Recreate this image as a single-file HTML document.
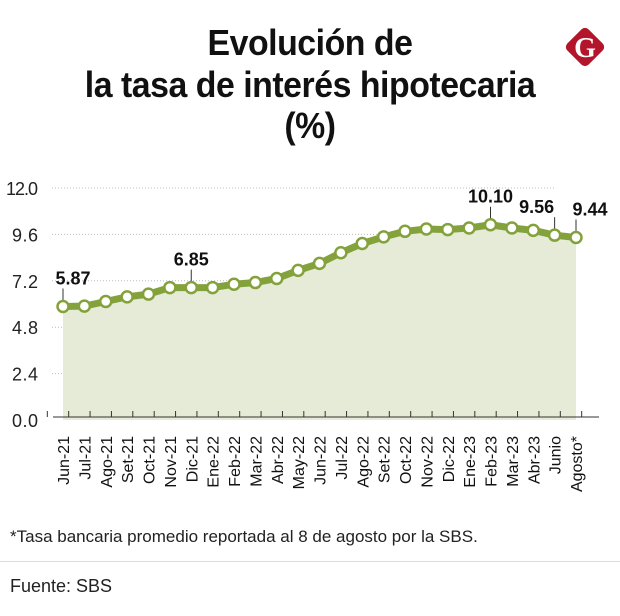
<!DOCTYPE html>
<html><head><meta charset="utf-8"><style>
body{margin:0;width:620px;height:616px;background:#fff;overflow:hidden;font-family:"Liberation Sans",sans-serif;}
.t{position:absolute;left:0;width:620px;text-align:center;font-weight:bold;font-size:36px;color:#111;font-family:"Liberation Sans",sans-serif;letter-spacing:-0.5px;transform:scaleX(0.94)}
</style></head><body>
<div>
<div class="t" style="top:22px">Evolución de</div>
<div class="t" style="top:64px">la tasa de interés hipotecaria</div>
<div class="t" style="top:105px">(%)</div>
</div>
<svg style="position:absolute;left:560px;top:22px" width="50" height="50" viewBox="0 0 50 50">
<rect x="10" y="10" width="30" height="30" rx="5" transform="rotate(45 25 25)" fill="#b3152a"/>
<text x="25" y="35" text-anchor="middle" font-family="Liberation Serif,serif" font-weight="bold" font-size="28" fill="#fff">G</text>
</svg>
<svg id="chart" style="position:absolute;left:0;top:0" width="620" height="520"></svg>
<div style="position:absolute;left:10px;top:527px;font-size:17px;color:#222;transform:scaleX(1.0);transform-origin:left">*Tasa bancaria promedio reportada al 8 de agosto por la SBS.</div>
<div style="position:absolute;left:0;top:561px;width:620px;height:1px;background:#ddd"></div>
<div style="position:absolute;left:10px;top:576px;font-size:18px;color:#222">Fuente: SBS</div>
<script>
const categories=["Jun-21","Jul-21","Ago-21","Set-21","Oct-21","Nov-21","Dic-21","Ene-22","Feb-22","Mar-22","Abr-22","May-22","Jun-22","Jul-22","Ago-22","Set-22","Oct-22","Nov-22","Dic-22","Ene-23","Feb-23","Mar-23","Abr-23","Junio","Agosto*"];
const values=[5.87,5.89,6.13,6.37,6.51,6.85,6.85,6.85,7.02,7.11,7.32,7.74,8.10,8.65,9.13,9.47,9.76,9.88,9.85,9.93,10.10,9.93,9.81,9.56,9.44];
const yTicks=[0,2.4,4.8,7.2,9.6,12];
const yTickLabels=["0.0","2.4","4.8","7.2","9.6","12.0"];
const labeled=[0,6,20,23,24];
const NS="http://www.w3.org/2000/svg";
const svg=document.getElementById('chart');
const x0=63,x1=576,yBase=420,yTop=188;
const xs=i=>x0+(x1-x0)*i/(categories.length-1);
const ys=v=>yBase-(yBase-yTop)*v/12;
function mk(t,a){const e=document.createElementNS(NS,t);for(const k in a)e.setAttribute(k,a[k]);svg.appendChild(e);return e;}
yTicks.forEach((v,i)=>{
 if(v>0){const g=mk('line',{x1:52,x2:555,y1:ys(v),y2:ys(v),stroke:'#bbb','stroke-width':1,'stroke-dasharray':'1 2'});
 }
 const t=mk('text',{x:38,y:ys(v)+7,'text-anchor':'end','font-size':18,fill:'#222','font-family':'Liberation Sans,sans-serif','textLength':yTickLabels[i].length>3?32:26});
 t.textContent=yTickLabels[i];
 
});
let d=`M${xs(0)},${yBase}`;values.forEach((v,i)=>d+=`L${xs(i)},${ys(v)}`);d+=`L${xs(values.length-1)},${yBase}Z`;
const area=mk('path',{d:d,fill:'#e5ebd6'});

const ax=mk('line',{x1:53,x2:599,y1:yBase-3,y2:yBase-3,stroke:'#333','stroke-width':1});

const step=(x1-x0)/(categories.length-1);
for(let i=0;i<=categories.length;i++){const xx=x0-step/2+step*i-5;
 const tk=mk('line',{x1:xx,x2:xx,y1:yBase-9,y2:yBase-3,stroke:'#333','stroke-width':1});
 }
const pts=values.map((v,i)=>`${xs(i)},${ys(v)}`).join(' ');
const ln=mk('polyline',{points:pts,fill:'none',stroke:'#84a23b','stroke-width':7,'stroke-linejoin':'round'});

labeled.forEach(i=>{
 const l=mk('line',{x1:xs(i),x2:xs(i),y1:ys(values[i])-6,y2:ys(values[i])-18,stroke:'#333','stroke-width':1});
 
});
values.forEach((v,i)=>{
 const c=mk('circle',{cx:xs(i),cy:ys(v),r:5.5,fill:'#fff',stroke:'#84a23b','stroke-width':2.5});
 
});
const offs={0:10,6:0,20:0,23:-18,24:14};
labeled.forEach(i=>{
 const t=mk('text',{x:xs(i)+offs[i],y:ys(values[i])-22,'text-anchor':'middle','font-size':18,'font-weight':'bold',fill:'#111','font-family':'Liberation Sans,sans-serif'});
 t.textContent=values[i].toFixed(2);
 
});
categories.forEach((c,i)=>{
 const t=mk('text',{transform:`translate(${xs(i)+6},436) rotate(-90)`,'text-anchor':'end','font-size':16,fill:'#111','font-family':'Liberation Sans,sans-serif'});
 t.textContent=c;
 
});
</script>
</body></html>
